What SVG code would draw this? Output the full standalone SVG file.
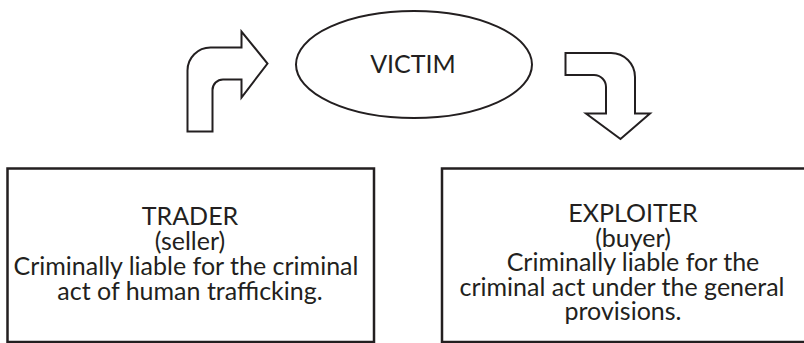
<svg xmlns="http://www.w3.org/2000/svg" width="804" height="343" viewBox="0 0 804 343">
<style>
.box{fill:#fff;stroke:#231f20;stroke-width:2.5}
.shape{fill:#fff;stroke:#231f20;stroke-width:2;stroke-linejoin:miter}
.t{font-family:Lato,"Open Sans","Liberation Sans",sans-serif;font-size:25px;fill:#231f20;text-anchor:middle}
</style>
<rect width="804" height="343" fill="#fff"/>
<g id="connectors">
<path id="arrow-up-right" class="shape" d="M187.5,131.5 L212.5,131.5 L212.5,90 A10.5,10.5 0 0 1 223,79.5 L241.5,79.5 L241.5,97.5 L267.5,63.5 L241.5,31.5 L241.5,47.5 L210.5,47.5 A23,23 0 0 0 187.5,70.5 Z"/>
<path id="arrow-right-down" class="shape" d="M565.5,53 L611,53 A24,24 0 0 1 635,77 L635,113.5 L650,113.5 L620.5,139 L586,113.5 L606,113.5 L606,87 A12,12 0 0 0 594,75 L565.5,75 Z"/>
</g>
<g id="victim">
<ellipse class="shape" cx="414" cy="64.5" rx="118" ry="53.5"/>
<text class="t" x="413" y="73">VICTIM</text>
</g>
<g id="trader">
<rect class="box" x="7.5" y="168.5" width="366.5" height="173.5"/>
<text class="t"><tspan x="190" y="224.5">TRADER</tspan><tspan x="190" y="249.5">(seller)</tspan><tspan x="186" y="274.5">Criminally liable for the criminal</tspan><tspan x="190" y="299.5">act of human trafficking.</tspan></text>
</g>
<g id="exploiter">
<rect class="box" x="442" y="168.5" width="370" height="173.5"/>
<text class="t"><tspan x="633" y="222">EXPLOITER</tspan><tspan x="633" y="246.5">(buyer)</tspan><tspan x="633" y="271">Criminally liable for the</tspan><tspan x="622" y="295.5">criminal act under the general</tspan><tspan x="623" y="320">provisions.</tspan></text>
</g>
</svg>
